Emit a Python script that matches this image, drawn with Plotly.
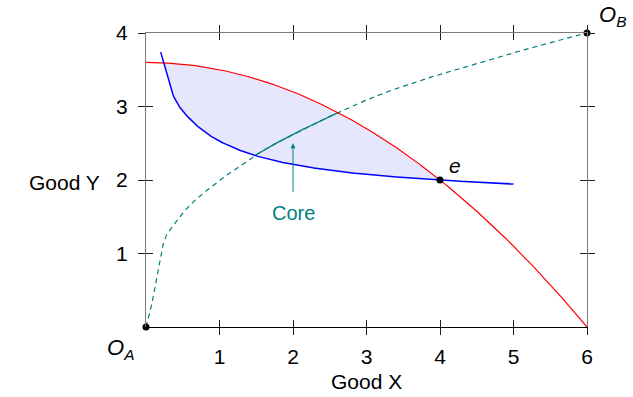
import numpy as np
import plotly.graph_objects as go

# ---- data ----
red_x = [0.0, 0.5, 1.0, 1.5, 2.0, 2.5, 3.0, 3.5, 4.0, 4.5, 5.0, 5.5, 6.0]
red_y = [3.6, 3.575, 3.5, 3.375, 3.2, 2.975, 2.7, 2.375, 2.0, 1.575, 1.1, 0.575, 0.0]

blue_x = [0.20, 0.24, 0.35, 0.44, 0.55, 0.74, 0.96, 1.19, 1.46, 2.0, 2.6, 3.0, 3.5, 4.0, 4.5, 5.0]
blue_y = [3.74, 3.60, 3.20, 3.02, 2.88, 2.70, 2.55, 2.44, 2.34, 2.21, 2.12, 2.075, 2.035, 2.0, 1.97, 1.945]

teal_x = [0.0, 0.10, 0.19, 0.26, 0.37, 0.60, 0.83, 1.05, 1.28, 1.46, 2.0, 2.62, 3.15, 3.91, 4.5, 5.0, 5.5, 6.0]
teal_y = [0.0, 0.41, 0.91, 1.21, 1.38, 1.66, 1.86, 2.03, 2.19, 2.32, 2.62, 2.92, 3.15, 3.41, 3.58, 3.73, 3.87, 4.0]

point_x = [0, 6, 4]
point_y = [0, 4, 2]

x_ticks = [1, 2, 3, 4, 5, 6]
y_ticks = [1, 2, 3, 4]

TEAL = "#008080"
FONT = "Liberation Sans"


def pchip(xk, yk, xq):
    xk = np.asarray(xk, float); yk = np.asarray(yk, float); xq = np.asarray(xq, float)
    h = np.diff(xk); d = np.diff(yk) / h
    n = len(xk)
    m = np.zeros(n)
    for i in range(1, n - 1):
        if d[i - 1] * d[i] > 0:
            w1 = 2 * h[i] + h[i - 1]; w2 = h[i] + 2 * h[i - 1]
            m[i] = (w1 + w2) / (w1 / d[i - 1] + w2 / d[i])

    def end(h0, h1, d0, d1):
        s = ((2 * h0 + h1) * d0 - h0 * d1) / (h0 + h1)
        if np.sign(s) != np.sign(d0):
            s = 0.0
        elif np.sign(d0) != np.sign(d1) and abs(s) > abs(3 * d0):
            s = 3 * d0
        return s
    m[0] = end(h[0], h[1], d[0], d[1])
    m[-1] = end(h[-1], h[-2], d[-1], d[-2])
    idx = np.clip(np.searchsorted(xk, xq) - 1, 0, n - 2)
    t = (xq - xk[idx]) / h[idx]
    h00 = 2 * t**3 - 3 * t**2 + 1
    h10 = t**3 - 2 * t**2 + t
    h01 = -2 * t**3 + 3 * t**2
    h11 = t**3 - t**2
    return h00 * yk[idx] + h10 * h[idx] * m[idx] + h01 * yk[idx + 1] + h11 * h[idx] * m[idx + 1]


def crossing(fx, fy, gx, gy, lo, hi):
    xs = np.linspace(lo, hi, 20001)
    dd = pchip(fx, fy, xs) - pchip(gx, gy, xs)
    k = np.where(np.sign(dd[:-1]) != np.sign(dd[1:]))[0][0]
    return xs[k]


red_dx = np.linspace(red_x[0], red_x[-1], 400)
blue_dx = np.linspace(blue_x[0], blue_x[-1], 400)
teal_dx = np.linspace(teal_x[0], teal_x[-1], 600)

x_br = crossing(blue_x, blue_y, red_x, red_y, blue_x[0], 1.0)
x_tb = crossing(teal_x, teal_y, blue_x, blue_y, 1.0, 2.0)
x_tr = crossing(teal_x, teal_y, red_x, red_y, 2.0, 3.5)

fill_x = np.linspace(x_br, point_x[2], 300)
poly_x = np.concatenate([fill_x, fill_x[::-1]])
poly_y = np.concatenate([pchip(red_x, red_y, fill_x), pchip(blue_x, blue_y, fill_x[::-1])])

core_x = np.linspace(x_tb, x_tr, 200)

fig = go.Figure()
fig.add_trace(go.Scatter(x=poly_x, y=poly_y, fill="toself", fillcolor="rgb(230,230,252)",
                         line=dict(width=0), mode="lines", hoverinfo="skip"))
fig.add_trace(go.Scatter(x=teal_dx, y=pchip(teal_x, teal_y, teal_dx), mode="lines",
                         line=dict(color=TEAL, width=1.2, dash="5px,4px")))
fig.add_trace(go.Scatter(x=core_x, y=pchip(teal_x, teal_y, core_x), mode="lines",
                         line=dict(color=TEAL, width=1.3)))
fig.add_trace(go.Scatter(x=red_dx, y=pchip(red_x, red_y, red_dx), mode="lines",
                         line=dict(color="red", width=1.2)))
fig.add_trace(go.Scatter(x=blue_dx, y=pchip(blue_x, blue_y, blue_dx), mode="lines",
                         line=dict(color="blue", width=1.5)))
fig.add_trace(go.Scatter(x=point_x, y=point_y, mode="markers", cliponaxis=False,
                         marker=dict(color="black", size=7)))
# helper traces so the overlay axes are drawn
fig.add_trace(go.Scatter(x=[None], y=[None], xaxis="x2", yaxis="y2", hoverinfo="skip"))
fig.add_trace(go.Scatter(x=[None], y=[None], xaxis="x3", yaxis="y3", hoverinfo="skip"))

tickfont = dict(family=FONT, size=21, color="black")
common = dict(showgrid=False, zeroline=False, ticklen=7, tickwidth=1, tickcolor="#222")

fig.update_layout(
    width=633, height=397, margin=dict(l=146, r=46, t=33, b=70),
    paper_bgcolor="white", plot_bgcolor="white", showlegend=False,
    font=dict(family=FONT, size=21, color="black"),
    xaxis=dict(range=[0, 6], tickvals=x_ticks, ticks="outside", showline=True,
               linecolor="black", linewidth=1.2, tickfont=tickfont, ticklabelstandoff=4, **common),
    yaxis=dict(range=[0, 4], tickvals=y_ticks, ticks="outside", showline=True,
               linecolor="#7a7a7a", linewidth=1.2, tickfont=tickfont, ticklabelstandoff=6, **common),
    xaxis2=dict(range=[0, 6], tickvals=x_ticks, ticks="inside", mirror="ticks", showline=False,
                showticklabels=False, overlaying="x", anchor="y2", side="bottom", **common),
    yaxis2=dict(range=[0, 4], tickvals=y_ticks, ticks="inside", mirror="ticks", showline=False,
                showticklabels=False, overlaying="y", anchor="x2", side="left", **common),
    xaxis3=dict(range=[0, 6], tickvals=x_ticks, ticks="outside", showline=True, linecolor="#7a7a7a",
                linewidth=1.2, showticklabels=False, overlaying="x", anchor="y3", side="top", **common),
    yaxis3=dict(range=[0, 4], tickvals=y_ticks, ticks="outside", showline=True, linecolor="#7a7a7a",
                linewidth=1.2, showticklabels=False, overlaying="y", anchor="x3", side="right", **common),
)

fig.add_annotation(text="Good X", xref="x", x=3, yref="paper", y=0, yshift=-54,
                   showarrow=False, font=dict(size=21), xanchor="center", yanchor="middle")
fig.add_annotation(text="Good Y", xref="paper", x=0, xshift=-82, yref="y", y=2, yshift=-2,
                   showarrow=False, font=dict(size=21), xanchor="center", yanchor="middle")
fig.add_annotation(text="<i>O</i><sub><i>A</i></sub>", x=point_x[0], y=point_y[0], xshift=-26, yshift=-22,
                   showarrow=False, font=dict(size=22), xanchor="center", yanchor="middle")
fig.add_annotation(text="<i>O</i><sub><i>B</i></sub>", x=point_x[1], y=point_y[1], xshift=25, yshift=17,
                   showarrow=False, font=dict(size=22), xanchor="center", yanchor="middle")
fig.add_annotation(text="<i>e</i>", x=point_x[2], y=point_y[2], xshift=15, yshift=15,
                   showarrow=False, font=dict(size=21), xanchor="center", yanchor="middle")
fig.add_annotation(text="Core", x=2, y=2.5, ax=0, ay=70, showarrow=True, arrowhead=2,
                   arrowsize=1, arrowwidth=1, arrowcolor=TEAL, startstandoff=9,
                   font=dict(size=20, color=TEAL))

# remove the page's default 8px body margin so the figure fills the window exactly
fig.write_html("out.html", config={"displayModeBar": False},
               post_script="document.body.style.margin='0';")
